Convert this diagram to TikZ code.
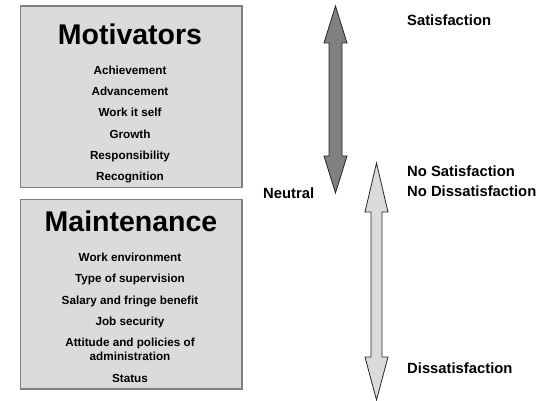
\documentclass[tikz,border=0pt]{standalone}
\usepackage{fontspec}
\setmainfont{Liberation Sans}
\begin{document}
\begin{tikzpicture}[x=1pt,y=-1pt,
  panel/.style={draw=black!50,line width=1.1pt,fill=black!14,minimum width=221.5pt,inner sep=0pt},
  title/.style={anchor=base,inner sep=0pt,font=\bfseries\fontsize{28.5}{30}\selectfont},
  item/.style={anchor=base,inner sep=0pt,font=\bfseries\fontsize{11.7}{14}\selectfont},
  scale label/.style={anchor=base west,inner sep=0pt,font=\bfseries\fontsize{14.8}{17}\selectfont},
  arrowbody/.style={draw=black!85,line width=0.8pt,line join=miter}]
\useasboundingbox (0,0) rectangle (539,401);

% factor panels
\node[panel,minimum height=181.5pt] (motbox) at (131.25,96.75) {};
\node[panel,minimum height=189.5pt] (mntbox) at (131.25,294.25) {};

% motivators
\node[title] (mot) at (130,45) {Motivators};
\node[item] (m1) at (130,74.5) {Achievement};
\node[item] (m2) at (130,95.7) {Advancement};
\node[item] (m3) at (130,117) {Work it self};
\node[item] (m4) at (130,138.3) {Growth};
\node[item] (m5) at (130,159.3) {Responsibility};
\node[item] (m6) at (130,180.3) {Recognition};

% maintenance factors
\node[title] (mnt) at (131,232) {Maintenance};
\node[item] (h1) at (130,261.5) {Work environment};
\node[item] (h2) at (130,282.8) {Type of supervision};
\node[item] (h3) at (130,304.2) {Salary and fringe benefit};
\node[item] (h4) at (130,325.5) {Job security};
\node[item] (h5) at (130,346.6) {Attitude and policies of};
\node[item] (h6) at (130,360.6) {administration};
\node[item] (h7) at (130,382) {Status};

% satisfaction scale (dark double arrow)
\draw[arrowbody,fill=black!50]
  (335.5,6) -- (347,43) -- (342,43) -- (342,156) -- (347,156) -- (335.5,193)
  -- (324,156) -- (329,156) -- (329,43) -- (324,43) -- cycle;

% dissatisfaction scale (light double arrow)
\draw[arrowbody,fill=black!14]
  (376.5,163) -- (388,212) -- (382,212) -- (382,357) -- (388,357) -- (376.5,400)
  -- (365,357) -- (371,357) -- (371,212) -- (365,212) -- cycle;

% scale labels
\node[scale label] (sat) at (407,25.7) {Satisfaction};
\node[scale label] (nosat) at (407,176.2) {No Satisfaction};
\node[scale label] (nodis) at (407,196.3) {No Dissatisfaction};
\node[scale label] (dis) at (407,373.7) {Dissatisfaction};
\node[scale label] (neu) at (263,199) {Neutral};
\end{tikzpicture}
\end{document}
